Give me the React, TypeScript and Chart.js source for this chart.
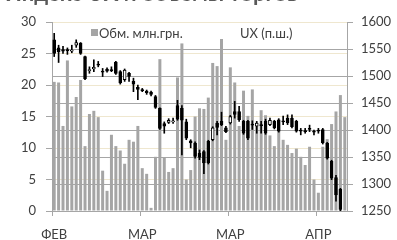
import React, { useEffect, useRef } from 'react';
import { Chart, registerables } from 'chart.js';

Chart.register(...registerables);

// Volume, mln UAH (left axis)
const volumes = [
  20.5, 20.4, 13.5, 23.9, 16.6, 18.1, 20.8, 10.3, 15.4, 15.9,
  14.9, 6.4, 3.2, 12.1, 10.3, 9.6, 7.5, 11.3, 11.0, 13.5,
  6.8, 5.9, 0.5, 8.6, 24.1, 8.5, 6.2, 6.8, 21.2, 26.6,
  5.0, 6.5, 15.0, 16.3, 16.2, 18.0, 23.5, 23.0, 27.3, 11.3,
  22.8, 20.4, 13.5, 19.1, 15.1, 19.3, 14.0, 16.0, 15.2, 12.0,
  10.3, 12.9, 11.3, 10.5, 9.2, 9.9, 8.6, 7.3, 10.2, 5.0,
  2.9, 10.2, 11.4, 13.8, 15.8, 18.4, 14.9,
];

// UX index OHLC (right axis)
const opens = [
  1567, 1552, 1549, 1548, 1546, 1557, 1561, 1536, 1510, 1513,
  1521, 1509, 1513, 1512, 1526, 1508, 1493, 1505, 1490, 1479,
  1475, 1472, 1470, 1462, 1440, 1412, 1414, 1415, 1445, 1440,
  1415, 1380, 1376, 1357, 1360, 1379, 1382, 1413, 1416, 1404,
  1413, 1434, 1434, 1416, 1416, 1411, 1407, 1410, 1416, 1410,
  1416, 1419, 1417, 1422, 1422, 1416, 1400, 1399, 1403, 1397,
  1400, 1401, 1376, 1342, 1312, 1290, null,
];
const highs = [
  1579, 1557, 1555, 1552, 1557, 1567, 1562, 1537, 1517, 1530,
  1527, 1514, 1515, 1517, 1527, 1510, 1513, 1507, 1496, 1483,
  1477, 1474, 1472, 1464, 1441, 1415, 1421, 1422, 1455, 1445,
  1420, 1382, 1378, 1363, 1362, 1381, 1406, 1416, 1433, 1407,
  1427, 1453, 1444, 1418, 1418, 1417, 1416, 1416, 1420, 1422,
  1418, 1421, 1426, 1428, 1428, 1418, 1403, 1403, 1409, 1400,
  1403, 1403, 1377, 1344, 1316, 1292, null,
];
const lows = [
  1536, 1525, 1542, 1540, 1543, 1553, 1540, 1493, 1505, 1508,
  1517, 1499, 1507, 1508, 1503, 1485, 1490, 1490, 1471, 1456,
  1471, 1466, 1463, 1440, 1401, 1394, 1412, 1412, 1418, 1354,
  1382, 1367, 1348, 1345, 1319, 1337, 1380, 1391, 1408, 1395,
  1411, 1422, 1416, 1392, 1382, 1401, 1394, 1394, 1392, 1408,
  1402, 1396, 1410, 1410, 1404, 1396, 1391, 1394, 1397, 1391,
  1394, 1374, 1346, 1308, 1268, 1250, null,
];
const closes = [
  1542, 1545, 1546, 1547, 1548, 1562, 1542, 1495, 1512, 1516,
  1520, 1507, 1509, 1510, 1505, 1487, 1511, 1499, 1485, 1475,
  1473, 1469, 1466, 1442, 1403, 1407, 1418, 1417, 1420, 1418,
  1385, 1376, 1351, 1349, 1339, 1339, 1404, 1405, 1410, 1397,
  1425, 1429, 1419, 1394, 1385, 1409, 1413, 1408, 1394, 1418,
  1404, 1398, 1415, 1413, 1406, 1398, 1398, 1397, 1401, 1396,
  1398, 1376, 1348, 1311, 1280, 1253, null,
];

const tickLabels = ['ФЕВ', 'МАР', 'МАР', 'АПР'];
const tickEvery = 20;

const FONT = 'Lato, "Open Sans", sans-serif';
const AXIS_GREY = '#a6a6a6';

export default function App() {
  const ref = useRef<HTMLCanvasElement>(null);

  useEffect(() => {
    const labels = volumes.map((_, i) =>
      i % tickEvery === 0 ? tickLabels[i / tickEvery] : ''
    );
    const wickData = lows.map((l, i) => (l == null ? null : [l, highs[i]]));
    const bodyData = opens.map((o, i) => (o == null ? null : [o, closes[i]]));
    const bodyColors = opens.map((o, i) =>
      o != null && (closes[i] as number) >= o ? '#ffffff' : '#000000'
    );

    const chart = new Chart(ref.current as HTMLCanvasElement, {
      type: 'bar',
      data: {
        labels,
        datasets: [
          {
            label: 'Обм. млн.грн.',
            data: volumes,
            yAxisID: 'yL',
            backgroundColor: '#a5a5a5',
            barPercentage: 0.68,
            categoryPercentage: 1,
            grouped: false,
            order: 3,
          } as any,
          {
            label: 'wick',
            data: wickData,
            yAxisID: 'yR',
            backgroundColor: '#000000',
            barThickness: 1,
            grouped: false,
            order: 2,
          } as any,
          {
            label: 'UX (п.ш.)',
            data: bodyData,
            yAxisID: 'yR',
            backgroundColor: bodyColors,
            borderColor: '#000000',
            borderWidth: 1,
            borderSkipped: false,
            barThickness: 3,
            minBarLength: 1,
            grouped: false,
            order: 1,
          } as any,
        ],
      },
      options: {
        responsive: false,
        animation: false,
        layout: { padding: { top: 22, left: 0, right: 0, bottom: 0 } },
        plugins: {
          legend: { display: false },
          tooltip: { enabled: false },
          title: { display: false },
        },
        scales: {
          x: {
            offset: true,
            grid: {
              offset: true,
              drawOnChartArea: false,
              tickLength: 5,
              tickColor: (c: any) =>
                typeof c.index === 'number' && c.index % tickEvery === 0
                  ? AXIS_GREY
                  : 'rgba(0,0,0,0)',
            },
            border: { color: AXIS_GREY },
            ticks: {
              autoSkip: false,
              maxRotation: 0,
              minRotation: 0,
              padding: 11,
              color: '#404040',
              font: { family: FONT, size: 13 },
            },
            afterFit: (s: any) => {
              s.height = 29;
            },
          },
          yL: {
            position: 'left',
            min: 0,
            max: 30,
            ticks: {
              stepSize: 5,
              padding: 10,
              color: '#404040',
              font: { family: FONT, size: 13 },
            },
            grid: {
              color: (c: any) =>
                c.tick && c.tick.value === 0 ? 'rgba(0,0,0,0)' : '#efe7cf',
              tickColor: AXIS_GREY,
              tickLength: 6,
            },
            border: { color: AXIS_GREY },
            afterFit: (s: any) => {
              s.width = 52;
            },
          },
          yR: {
            position: 'right',
            min: 1250,
            max: 1600,
            ticks: {
              stepSize: 50,
              padding: 8,
              color: '#404040',
              font: { family: FONT, size: 13 },
              callback: (v: any) => String(v),
            },
            grid: {
              color: (c: any) =>
                c.tick && (c.tick.value === 1250 || c.tick.value === 1600)
                  ? 'rgba(0,0,0,0)'
                  : AXIS_GREY,
              tickColor: AXIS_GREY,
              tickLength: 6,
            },
            border: { color: AXIS_GREY },
            afterFit: (s: any) => {
              s.width = 50;
            },
          },
        },
      } as any,
    });
    return () => chart.destroy();
  }, []);

  return (
    <div
      style={{
        position: 'fixed',
        left: 0,
        top: 0,
        width: 397,
        height: 240,
        background: '#ffffff',
        overflow: 'hidden',
        fontFamily: FONT,
      }}
    >
      <canvas ref={ref} width={397} height={240} style={{ position: 'absolute', left: 0, top: 0 }} />
      <div
        style={{
          position: 'absolute',
          left: 5,
          top: -18,
          fontSize: 22,
          fontWeight: 'bold',
          color: '#595959',
          whiteSpace: 'nowrap',
          lineHeight: '22px',
        }}
      >
        Индекс UX и объемы торгов
      </div>
      <div
        style={{
          position: 'absolute',
          left: 91,
          top: 29,
          width: 7,
          height: 7,
          background: '#a5a5a5',
        }}
      />
      <div
        style={{
          position: 'absolute',
          left: 99,
          top: 25,
          fontSize: 13,
          lineHeight: '16px',
          color: '#404040',
          whiteSpace: 'nowrap',
        }}
      >
        Обм. млн.грн.
      </div>
      <div
        style={{
          position: 'absolute',
          left: 240,
          top: 25,
          fontSize: 13,
          lineHeight: '16px',
          color: '#404040',
          whiteSpace: 'nowrap',
        }}
      >
        UX (п.ш.)
      </div>
    </div>
  );
}
